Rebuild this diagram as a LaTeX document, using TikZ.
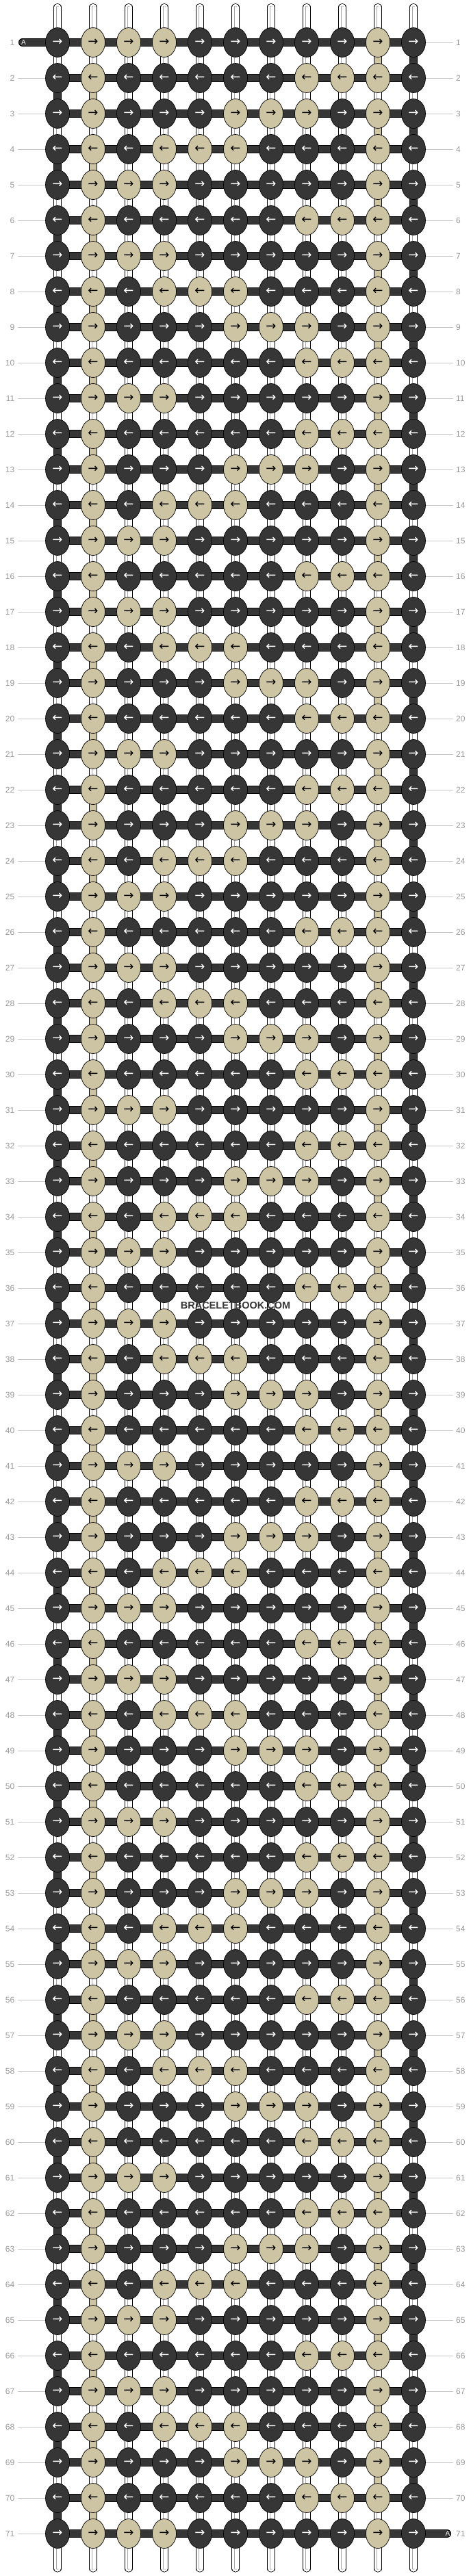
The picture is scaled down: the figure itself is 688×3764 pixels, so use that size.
\documentclass[tikz,border=0pt]{standalone}
\usepackage{fontspec}
\setmainfont{Liberation Sans}
\newfontfamily\arrowfont{DejaVu Sans}
\usetikzlibrary{shapes.geometric,backgrounds}

\definecolor{knotdark}{HTML}{363636}
\definecolor{knottan}{HTML}{CDC4A3}
\definecolor{rowgrey}{HTML}{999999}
\definecolor{linegrey}{HTML}{C4C4C4}

% colours of the knots in one row, left to right
\def\knotsA{kd,kt,kt,kt,kd,kd,kd,kd,kd,kt,kd}
\def\knotsB{kd,kt,kd,kd,kd,kd,kd,kt,kt,kt,kd}
\def\knotsC{kd,kt,kd,kd,kd,kt,kt,kt,kd,kt,kd}
\def\knotsE{kd,kt,kd,kt,kt,kt,kd,kd,kd,kt,kd}

\tikzset{
  knot/.style={ellipse, draw=black, line width=0.7pt, minimum width=35pt,
    minimum height=43pt, inner sep=0pt, font=\arrowfont\fontsize{18}{18}\selectfont},
  kd/.style={knot, fill=knotdark, text=white},
  kt/.style={knot, fill=knottan, text=black},
  hbar/.style={draw=black, line width=0.8pt, double=knotdark, double distance=10.5pt},
  vbarD/.style={draw=black, line width=0.8pt, double=knotdark, double distance=9.5pt},
  vbarT/.style={draw=black, line width=0.8pt, double=knottan, double distance=9.5pt},
  pipe/.style={draw=black, line width=0.8pt, double=white, double distance=9.5pt,
    postaction={draw=gray!70, line width=0.4pt, double=white, double distance=3pt}},
  rownum/.style={text=rowgrey, font=\fontsize{12}{12}\selectfont, inner sep=0pt},
  rowline/.style={draw=linegrey, line width=0.8pt},
  strandlabel/.style={text=white, font=\fontsize{10}{10}\selectfont, inner sep=0pt},
}

\begin{document}
\begin{tikzpicture}[x=1pt,y=-1pt]
    \useasboundingbox (0,0) rectangle (688,3764);

    % knots
    \foreach \r in {1,...,71}{
      \pgfmathtruncatemacro\m{mod(\r-1,10)}
      \ifcase\m \let\cur\knotsA\or\let\cur\knotsB\or\let\cur\knotsC\or\let\cur\knotsE
      \or\let\cur\knotsA\or\let\cur\knotsB\or\let\cur\knotsA\or\let\cur\knotsE
      \or\let\cur\knotsC\or\let\cur\knotsB\fi
      \ifodd\r \def\arr{→}\else\def\arr{←}\fi
      \foreach \kc [count=\col] in \cur {
        \node[\kc] (k-\r-\col) at ({84+52*(\col-1)},{62+52*(\r-1)}) {\arr};
      }
    }

    % row numbers
    \foreach \r in {1,...,71}{
      \node[rownum, anchor=east] (nl-\r) at (21.5,{62+52*(\r-1)}) {\r};
      \node[rownum, anchor=west] (nr-\r) at (666,{62+52*(\r-1)}) {\r};
    }

    % strand A in and out
    \coordinate (a-in) at (33,62);
    \coordinate (a-out) at (653,3702);
    \node[strandlabel] (lab-in) at (34.5,62) {A};
    \node[strandlabel] (lab-out) at (654,3702) {A};

    % tops and ends of the vertical strands
    \foreach \col in {1,...,11}{
      \coordinate (top-\col) at ({84+52*(\col-1)},10.5);
      \coordinate (bot-\col) at ({84+52*(\col-1)},3753);
    }

    \begin{scope}[on background layer]
      % horizontal strands
      \foreach \r in {1,...,71}{
        \foreach \col in {1,...,10}{
          \pgfmathtruncatemacro\nx{\col+1}
          \draw[hbar] (k-\r-\col.center) -- (k-\r-\nx.center);
        }
      }
      \draw[hbar, line cap=round] (a-in) -- (k-1-1.center);
      \draw[hbar, line cap=round] (k-71-11.center) -- (a-out);

      % vertical strands
      \foreach \r in {1,...,70}{
        \pgfmathtruncatemacro\nr{\r+1}
        \foreach \col in {1,...,11}{
          \def\vs{pipe}
          \ifodd\r
            \ifnum\col=10 \def\vs{vbarT}\fi
            \ifnum\col=11 \def\vs{vbarD}\fi
          \else
            \ifnum\col=1 \def\vs{vbarD}\fi
            \ifnum\col=2 \def\vs{vbarT}\fi
          \fi
          \draw[\vs] (k-\r-\col.center) -- (k-\nr-\col.center);
        }
      }
      \foreach \col in {1,...,11}{
        \draw[pipe, line cap=round] (top-\col) -- (k-1-\col.center);
        \draw[pipe, line cap=round] (k-71-\col.center) -- (bot-\col);
      }

      % lines to the row numbers
      \foreach \r in {2,...,71}{
        \draw[rowline, shorten <=4.5pt] (nl-\r.east) -- (k-\r-1.west);
      }
      \foreach \r in {1,...,70}{
        \draw[rowline, shorten >=4pt] (k-\r-11.east) -- (nr-\r.west);
      }
    \end{scope}

    \node[text=knotdark, font=\bfseries\fontsize{14.5}{15}\selectfont] (mark) at (344,1907) {BRACELETBOOK.COM};

\end{tikzpicture}
\end{document}
